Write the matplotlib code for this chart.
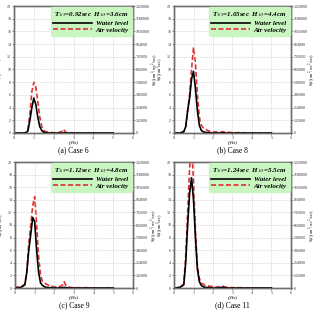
import numpy as np
import matplotlib.pyplot as plt
import matplotlib as mpl

plt.rcParams['font.family'] = ['Liberation Serif', 'DejaVu Serif']
plt.rcParams['mathtext.fontset'] = 'stix'

# frequency grid (Hz)
freq = [0.0, 0.1, 0.2, 0.3, 0.4, 0.5, 0.6, 0.7, 0.8, 0.9, 1.0, 1.1, 1.2, 1.3, 1.4,
        1.5, 1.6, 1.8, 2.0, 2.2, 2.4, 2.5, 2.6, 2.8, 3.0, 3.5, 4.0, 4.5, 5.0]

# water level spectra S(f) (cm^2 sec)
water_a = [0, 0, 0, 0, 0, 0, 0.05, 0.3, 2.0, 4.0, 5.5, 4.5, 2.5, 1.0, 0.4,
           0.1, 0.05, 0, 0, 0, 0, 0, 0, 0, 0, 0, 0, 0, 0]
water_b = [0, 0, 0, 0, 0.1, 0.2, 1.0, 3.5, 5.5, 8.5, 9.7, 7.0, 3.5, 1.2, 0.4,
           0.2, 0.1, 0.05, 0, 0, 0, 0.05, 0, 0, 0, 0, 0, 0, 0]
water_c = [0, 0, 0.05, 0.1, 0.3, 0.5, 2.5, 6.0, 8.5, 11.2, 10.5, 6.0, 2.5, 0.8, 0.4,
           0.2, 0.1, 0.05, 0, 0, 0.05, 0.1, 0.05, 0, 0, 0, 0, 0, 0]
water_d = [0, 0, 0.05, 0.1, 0.3, 0.5, 4.0, 10.0, 15.0, 17.5, 14.0, 8.0, 3.0, 1.0, 0.4,
           0.2, 0.1, 0.05, 0, 0, 0.05, 0.15, 0.05, 0, 0, 0, 0, 0, 0]

# air velocity spectra S(f) (cm^2/sec^2/sec)
air_a = [0, 0, 0, 0, 0, 0, 6600, 33000, 198000, 429000, 528000, 475000, 330000, 165000, 66000,
         26400, 13200, 6600, 3300, 3300, 13200, 39600, 6600, 3300, 0, 0, 0, 0, 0]
air_b = [0, 0, 0, 0, 6600, 13200, 52800, 231000, 396000, 660000, 891000, 726000, 396000, 165000, 79200,
         52800, 39600, 19800, 13200, 9900, 9900, 13200, 9900, 6600, 3300, 3300, 0, 0, 0]
air_c = [0, 13200, 6600, 13200, 26400, 39600, 165000, 462000, 660000, 858000, 957000, 660000, 330000, 132000, 66000,
         52800, 39600, 19800, 13200, 9900, 26400, 66000, 19800, 6600, 3300, 3300, 0, 0, 0]
air_d = [0, 0, 6600, 13200, 26400, 39600, 330000, 792000, 1254000, 1518000, 1122000, 594000, 231000, 99000, 52800,
         39600, 26400, 19800, 13200, 9900, 13200, 19800, 9900, 6600, 3300, 3300, 0, 0, 0]

titles = ['T$_{1/3}$=0.92sec  H$_{1/3}$=3.6cm',
          'T$_{1/3}$=1.05sec  H$_{1/3}$=4.4cm',
          'T$_{1/3}$=1.12sec  H$_{1/3}$=4.8cm',
          'T$_{1/3}$=1.24sec  H$_{1/3}$=5.5cm']
captions = ['(a) Case 6', '(b) Case 8', '(c) Case 9', '(d) Case 11']
water = [water_a, water_b, water_c, water_d]
air = [air_a, air_b, air_c, air_d]

W, H = 318, 310
fig = plt.figure(figsize=(W / 100, H / 100), dpi=100)

# axes boxes in pixels: left, top, right, bottom
boxes = [(14, 6, 133, 133), (174, 6, 291, 133),
         (15, 162, 133, 288), (174, 162, 291, 288)]

for i, (l, t, r, b) in enumerate(boxes):
    ax = fig.add_axes([l / W, 1 - b / H, (r - l) / W, (b - t) / H])
    ax2 = ax.twinx()
    ax.set_zorder(ax2.get_zorder() + 1)
    ax.patch.set_visible(False)

    lw_line, = ax.plot(freq, water[i], color='black', lw=1.2, label='Water level')
    av_line, = ax2.plot(freq, air[i], color='#e03030', lw=1.2, ls=(0, (3, 1.5)), label='Air velocity')

    ax.set_xlim(0, 6)
    ax.set_ylim(0, 20)
    ax2.set_ylim(0, 1320000)
    ax.set_xticks(range(0, 7))
    ax.set_yticks(range(0, 21, 2))
    ax2.set_yticks(np.arange(0, 1320001, 132000))
    ax2.set_yticklabels([str(v) for v in range(0, 1320001, 132000)])
    ax.grid(True, color='#bbbbbb', ls=':', lw=0.5)

    for a in (ax, ax2):
        a.tick_params(labelsize=3.0, length=1.2, width=0.4, pad=0.8, colors='#333333')
        for s in a.spines.values():
            s.set_color('#707070')
            s.set_linewidth(1.0)

    ax.set_xlabel('f(Hz)', fontsize=3.5, style='italic', labelpad=1)
    ax.set_ylabel('S(f)(cm$^2$sec)', fontsize=3.1)
    ax.yaxis.set_label_coords(-0.065, 0.5)
    ax2.set_ylabel('S(f)(cm$^2$/sec$^2$/sec)', fontsize=3.1)
    ax2.yaxis.set_label_coords(1.145, 0.5)

    leg = ax.legend(handles=[lw_line, av_line], title=titles[i], loc='upper right',
                    fontsize=5, title_fontsize=5, fancybox=True, framealpha=1,
                    borderaxespad=0.2, handlelength=5.5, borderpad=0.4, labelspacing=0.15,
                    handletextpad=0.6)
    leg.get_frame().set_facecolor('#c8f5c0')
    leg.get_frame().set_edgecolor('#c8f5c0')
    for txt in leg.get_texts():
        txt.set_fontstyle('italic')
        txt.set_fontweight('bold')
    leg.get_title().set_fontstyle('italic')
    leg.get_title().set_fontweight('bold')

    cx = (l + r) / 2 / W
    cy = 1 - (b + 17) / H
    fig.text(cx, cy, captions[i], ha='center', va='center', fontsize=5.5)

fig.savefig('out.png', dpi=100)
